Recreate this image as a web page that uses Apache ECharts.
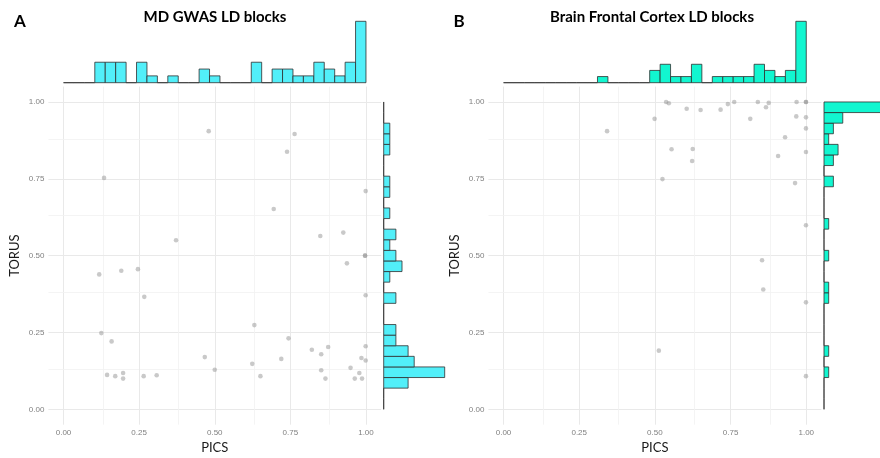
<!DOCTYPE html>
<html>
<head>
<meta charset="utf-8">
<script src="https://cdn.jsdelivr.net/npm/echarts@6/dist/echarts.min.js"></script>
<style>
html,body{margin:0;padding:0;background:#fff;}
#chart{width:880px;height:458px;}
</style>
</head>
<body>
<div id="chart"></div>
<script>
// ---------- DATA ----------
// Panel A: MD GWAS LD blocks
const A_pics  = [0.480,0.134,0.372,0.118,0.191,0.246,0.267,0.125,0.159,0.467,0.500,0.144,0.171,0.197,0.197,0.265,0.308,
                 0.764,0.739,0.999,0.695,0.849,0.925,0.997,0.997,0.937,0.999,0.631,0.744,0.624,0.651,0.720,0.821,0.875,
                 0.852,0.999,0.985,0.999,0.852,0.866,0.949,0.978,0.963,0.987];
const A_torus = [0.905,0.753,0.550,0.439,0.451,0.456,0.366,0.248,0.221,0.170,0.129,0.112,0.108,0.118,0.100,0.108,0.111,
                 0.896,0.838,0.710,0.652,0.564,0.575,0.500,0.500,0.475,0.371,0.274,0.231,0.148,0.108,0.164,0.194,0.203,
                 0.179,0.205,0.167,0.159,0.127,0.100,0.135,0.118,0.100,0.100];
// Panel B: Brain Frontal Cortex LD blocks
const B_pics  = [0.342,0.499,0.513,0.537,0.546,0.605,0.651,0.717,0.741,0.762,0.840,0.867,0.876,0.968,0.999,0.999,
                 0.815,0.967,0.999,0.999,0.930,0.555,0.625,0.623,0.999,0.907,0.525,0.963,0.999,0.854,0.858,0.999,0.999];
const B_torus = [0.905,0.945,0.191,1.000,0.996,0.978,0.974,0.975,0.993,1.000,1.000,0.983,0.997,1.000,1.000,1.000,
                 0.945,0.953,0.950,0.914,0.885,0.846,0.847,0.808,0.837,0.824,0.749,0.736,0.599,0.485,0.390,0.348,0.108];
// Marginal histogram counts (29 bins over [0,1])
const nBins = 29;
const A_topCounts   = [0,0,0,3,3,3,0,3,1,0,1,0,0,2,1,0,0,0,3,0,2,2,1,1,3,2,1,3,9];
const A_rightCounts = [0,0,4,10,5,4,2,2,0,0,2,0,1,3,2,1,2,0,1,0,1,1,0,0,1,1,1,0,0];
const B_topCounts   = [0,0,0,0,0,0,0,0,0,1,0,0,0,0,2,3,1,1,3,0,1,1,1,1,3,2,1,2,10];
const B_rightCounts = [0,0,0,1,0,1,0,0,0,0,1,1,0,0,1,0,0,1,0,0,0,2,0,2,3,1,2,4,13];
// Tick labels / gridlines
const tickLabels = [0, 0.25, 0.5, 0.75, 1];
const gridValues = [0, 0.125, 0.25, 0.375, 0.5, 0.625, 0.75, 0.875, 1];
const titles = ['MD GWAS LD blocks', 'Brain Frontal Cortex LD blocks'];
const panelLetters = ['A', 'B'];
const axisNames = {x: 'PICS', y: 'TORUS'};

// ---------- BUILD ----------
const chart = echarts.init(document.getElementById('chart'), null, {renderer: 'canvas'});
const binW = 1 / nBins;
const ptColor = 'rgba(145,145,145,0.62)';
const outline = '#2e2e2e';
const fills = ['#52EFF9', '#12F6D0'];

function labelFmt(v) {
  for (const t of tickLabels) {
    if (Math.abs(v - t) < 1e-6) return t.toFixed(2);
  }
  return '';
}
function mainX(idx) {
  return {gridIndex: idx, type: 'value', min: -0.05, max: 1.05, interval: 0.05,
    name: axisNames.x, nameLocation: 'middle', nameGap: 17,
    nameTextStyle: {fontFamily: 'Lato', fontSize: 13, color: '#1a1a1a'},
    axisLine: {show: false}, axisTick: {show: false}, splitLine: {show: false},
    axisLabel: {formatter: labelFmt, fontSize: 8, color: '#808080', margin: 4, fontFamily: 'Liberation Sans'}};
}
function mainY(idx) {
  return {gridIndex: idx, type: 'value', min: -0.05, max: 1.05, interval: 0.05,
    name: axisNames.y, nameLocation: 'middle', nameGap: 27,
    nameTextStyle: {fontFamily: 'Lato', fontSize: 13, color: '#1a1a1a'},
    axisLine: {show: false}, axisTick: {show: false}, splitLine: {show: false},
    axisLabel: {formatter: labelFmt, fontSize: 8, color: '#808080', margin: 4, fontFamily: 'Liberation Sans'}};
}
function hiddenAxis(idx, min, max) {
  return {gridIndex: idx, type: 'value', min: min, max: max, show: false, splitLine: {show: false}};
}
function gridLineSeries(ax) {
  const data = [];
  gridValues.forEach((v, i) => {
    const major = (i % 2 === 0);
    const ls = {color: major ? '#e9e9e9' : '#f1f1f1', width: major ? 1 : 0.8, type: 'solid'};
    data.push({xAxis: v, lineStyle: ls});
    data.push({yAxis: v, lineStyle: ls});
  });
  return {type: 'line', xAxisIndex: ax, yAxisIndex: ax, data: [], z: 0, silent: true,
    markLine: {silent: true, z: 0, symbol: ['none', 'none'], label: {show: false}, animation: false, data: data}};
}
function scatterSeries(ax, xs, ys) {
  return {type: 'scatter', xAxisIndex: ax, yAxisIndex: ax, z: 5, symbolSize: 4.6,
    itemStyle: {color: ptColor, borderWidth: 0}, data: xs.map((x, i) => [x, ys[i]]), animation: false};
}
function topHist(ax, counts, fill) {
  return {type: 'custom', xAxisIndex: ax, yAxisIndex: ax, animation: false,
    data: counts.map((c, i) => [i * binW, (i + 1) * binW, c]),
    encode: {x: [0, 1], y: 2},
    renderItem: function (params, api) {
      const p0 = api.coord([api.value(0), 0]);
      const p1 = api.coord([api.value(1), api.value(2)]);
      return {type: 'rect', shape: {x: p0[0], y: p1[1], width: p1[0] - p0[0], height: p0[1] - p1[1]},
        style: {fill: fill, stroke: outline, lineWidth: 0.8}};
    }};
}
function rightHist(ax, counts, fill) {
  return {type: 'custom', xAxisIndex: ax, yAxisIndex: ax, animation: false,
    data: counts.map((c, i) => [c, i * binW, (i + 1) * binW]),
    encode: {x: 0, y: [1, 2]},
    renderItem: function (params, api) {
      const p0 = api.coord([0, api.value(1)]);
      const p1 = api.coord([api.value(0), api.value(2)]);
      return {type: 'rect', shape: {x: p0[0], y: p1[1], width: p1[0] - p0[0], height: p0[1] - p1[1]},
        style: {fill: fill, stroke: outline, lineWidth: 0.8}};
    }};
}

const G = {outerBoundsMode: 'none', containLabel: false, show: false};
const option = {
  backgroundColor: '#ffffff',
  animation: false,
  grid: [
    Object.assign({left: 48.4, top: 86.6, width: 332.7, height: 338.1}, G),
    Object.assign({left: 48.4, top: 21.3, width: 332.7, height: 61.4}, G),
    Object.assign({left: 383.7, top: 86.6, width: 61, height: 338.1}, G),
    Object.assign({left: 488.4, top: 86.6, width: 333, height: 338.1}, G),
    Object.assign({left: 488.4, top: 21.3, width: 333, height: 61.4}, G),
    Object.assign({left: 824, top: 86.6, width: 61, height: 338.1}, G)
  ],
  xAxis: [
    mainX(0), hiddenAxis(1, -0.05, 1.05), hiddenAxis(2, 0, 10),
    mainX(3), hiddenAxis(4, -0.05, 1.05), hiddenAxis(5, 0, 13)
  ],
  yAxis: [
    mainY(0), hiddenAxis(1, 0, 9), hiddenAxis(2, -0.05, 1.05),
    mainY(3), hiddenAxis(4, 0, 10), hiddenAxis(5, -0.05, 1.05)
  ],
  graphic: [
    {type: 'text', x: 20, y: 22, style: {text: panelLetters[0], font: 'bold 17px Lato', fill: '#000', align: 'center', verticalAlign: 'middle', textAlign: 'center', textVerticalAlign: 'middle'}},
    {type: 'text', x: 459, y: 22, style: {text: panelLetters[1], font: 'bold 17px Lato', fill: '#000', align: 'center', verticalAlign: 'middle', textAlign: 'center', textVerticalAlign: 'middle'}},
    {type: 'text', x: 215, y: 17, style: {text: titles[0], font: 'bold 15px Lato', fill: '#000', align: 'center', verticalAlign: 'middle', textAlign: 'center', textVerticalAlign: 'middle'}},
    {type: 'text', x: 652, y: 17, style: {text: titles[1], font: 'bold 15px Lato', fill: '#000', align: 'center', verticalAlign: 'middle', textAlign: 'center', textVerticalAlign: 'middle'}}
  ],
  series: [
    gridLineSeries(0),
    scatterSeries(0, A_pics, A_torus),
    topHist(1, A_topCounts, fills[0]),
    rightHist(2, A_rightCounts, fills[0]),
    gridLineSeries(3),
    scatterSeries(3, B_pics, B_torus),
    topHist(4, B_topCounts, fills[1]),
    rightHist(5, B_rightCounts, fills[1])
  ]
};
chart.setOption(option);
</script>
</body>
</html>
